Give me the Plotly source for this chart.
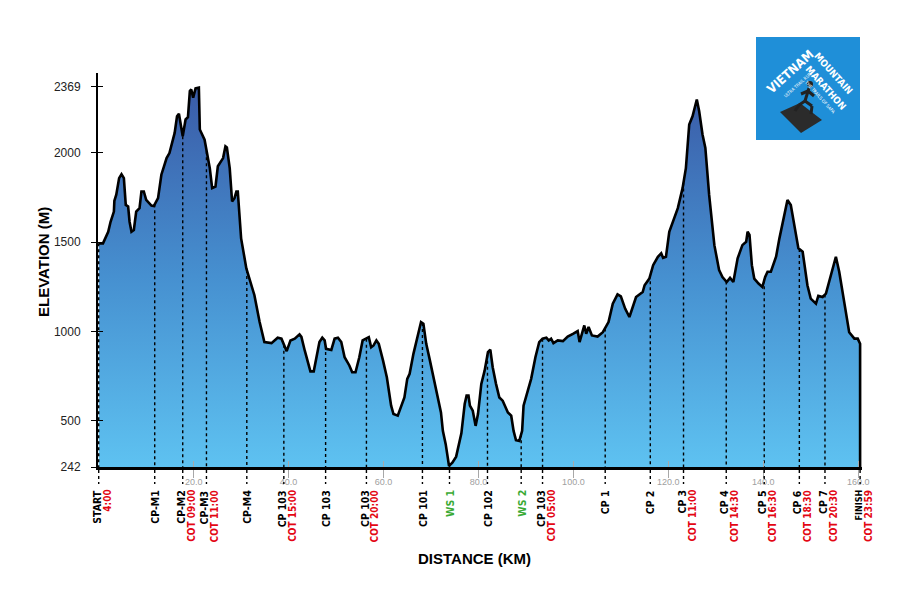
import numpy as np
import plotly.graph_objects as go

# elevation profile (km, metres)
km = [0, 0.9, 2.0, 2.5, 3.2, 3.3, 3.7, 4.3, 4.8, 5.3, 5.7, 6.2, 6.5, 6.9, 7.4, 7.9, 8.6, 9.0, 9.5,
      10.0, 11.1, 11.6, 12.5, 13.2, 14.3, 14.9, 16.0, 16.5, 16.9, 17.2, 17.7, 18.3, 18.8, 19.2,
      19.5, 19.9, 20.4, 21.1, 21.3, 22.3, 22.7, 23.4, 23.9, 24.6, 25.1, 26.2, 26.7, 27.0, 27.6,
      28.1, 28.6, 29.0, 29.3, 30.0, 31.1, 32.8, 33.9, 34.9, 36.4, 37.7, 38.5, 39.2, 39.6, 40.4,
      41.3, 42.3, 42.7, 43.4, 44.1, 44.6, 45.3, 45.8, 46.5, 47.1, 47.6, 47.9, 49.0, 49.7, 50.4,
      51.1, 51.8, 52.8, 53.4, 54.1, 54.9, 55.6, 56.4, 56.9, 57.4, 57.9, 58.5, 59.0, 59.9, 60.7,
      61.6, 62.1, 63.0, 63.7, 64.4, 65.0, 65.5, 66.3, 66.9, 67.6, 67.9, 68.4, 69.0, 69.7, 70.4,
      71.1, 72.1, 72.5, 73.1, 73.8, 74.5, 75.3, 76.4, 77.1, 77.5, 77.9, 78.2, 78.8, 79.4, 79.9,
      80.6, 81.3, 82.0, 82.5, 83.0, 83.7, 84.4, 85.1, 86.2, 86.9, 87.4, 87.9, 88.6, 89.2, 89.5,
      90.4, 91.1, 92.0, 92.8, 93.5, 94.3, 94.8, 95.3, 95.8, 96.7, 97.8, 98.8, 99.9, 100.9, 101.3,
      101.8, 102.3, 102.7, 103.2, 103.9, 105.1, 106.2, 106.9, 107.4, 108.3, 109.3, 110.0, 110.9,
      111.8, 112.5, 113.2, 114.6, 115.0, 116.0, 116.8, 117.8, 118.5, 118.9, 119.5, 120.2, 120.9,
      122.0, 123.0, 123.7, 124.4, 125.1, 126.0, 126.5, 127.2, 127.8, 128.6, 129.7, 130.7, 131.4,
      132.3, 133.0, 133.7, 134.6, 135.6, 136.4, 136.7, 137.1, 137.6, 138.1, 139.0, 139.8, 140.4,
      140.9, 141.6, 142.7, 143.4, 144.4, 145.1, 145.8, 146.5, 147.4, 148.3, 149.3, 150.0, 151.1,
      151.6, 152.5, 153.2, 154.3, 155.3, 156.0, 157.1, 158.1, 159.2, 159.9, 160.4, 160.4]
elev = [1493, 1493, 1558, 1614, 1671, 1731, 1765, 1858, 1880, 1858, 1708, 1699, 1614, 1558, 1568,
        1671, 1690, 1783, 1783, 1736, 1704, 1702, 1746, 1877, 1970, 1998, 2111, 2204, 2218, 2176,
        2092, 2186, 2199, 2345, 2354, 2308, 2360, 2364, 2130, 2073, 2008, 1914, 1802, 1811, 1924,
        1970, 2036, 2030, 1914, 1727, 1746, 1783, 1783, 1521, 1353, 1203, 1053, 941, 935, 965,
        960, 912, 890, 950, 960, 984, 970, 894, 828, 777, 777, 847, 941, 965, 950, 903, 897, 960,
        965, 941, 856, 810, 772, 772, 856, 950, 960, 968, 912, 922, 950, 931, 837, 744, 585, 538,
        529, 585, 631, 735, 763, 875, 941, 1025, 1053, 1044, 931, 847, 763, 669, 547, 444, 370,
        248, 266, 300, 430, 594, 641, 641, 585, 557, 472, 538, 707, 781, 884, 898, 800, 707, 631,
        613, 547, 529, 444, 392, 388, 444, 585, 669, 735, 856, 941, 960, 965, 950, 960, 935, 950,
        946, 972, 987, 1002, 941, 987, 1034, 987, 1025, 978, 972, 996, 1025, 1053, 1156, 1208,
        1197, 1128, 1081, 1137, 1193, 1221, 1259, 1296, 1371, 1418, 1437, 1412, 1418, 1558, 1614,
        1690, 1802, 1914, 2158, 2204, 2298, 2232, 2102, 2027, 1764, 1483, 1343, 1305, 1277, 1300,
        1277, 1409, 1483, 1502, 1558, 1540, 1371, 1296, 1268, 1249, 1305, 1334, 1334, 1418, 1521,
        1652, 1736, 1708, 1596, 1465, 1446, 1259, 1184, 1156, 1199, 1193, 1212, 1315, 1418, 1334,
        1165, 996, 960, 960, 931, 242]

# checkpoints
cp_km = [0, 11.8, 17.7, 22.7, 31.2, 39.0, 47.8, 56.4, 68.2, 73.9, 81.9, 89.0, 93.5,
         106.7, 116.2, 123.2, 132.2, 140.2, 147.6, 153.0, 160.4]
cp_name = ["START", "CP-M1", "CP-M2", "CP-M3", "CP-M4", "CP 103", "CP 103", "CP 103", "CP 101",
           "WS 1", "CP 102", "WS 2", "CP 103", "CP 1", "CP 2", "CP 3", "CP 4", "CP 5", "CP 6",
           "CP 7", "FINISH"]
cp_cot = ["4:00", "", "COT 09:00", "COT 11:00", "", "COT 15:00", "", "COT 20:00", "", "", "",
          "", "COT 05:00", "", "", "COT 11:00", "COT 14:30", "COT 16:30", "COT 18:30",
          "COT 20:30", "COT 23:59"]

y_ticks = [242, 500, 1000, 1500, 2000, 2369]
x_ticks = [20, 40, 60, 80, 100, 120, 140, 160]
x_tick_text = ["20.0", "40.0", "60.0", "80.0", "100.0", "120.0", "140.0", "160.0"]

# plot area in page pixels: 98..862 x 73..467 (the page body adds 8px)
OFF = 8
W, H = 900 - OFF, 600 - OFF
L, R, T, B = 98, 862, 73, 467


def px(x):
    return (x - L) / (R - L)


def py(y):
    return (B - y) / (B - T)


narrow = "Liberation Sans Narrow, Arial Narrow, DejaVu Sans Condensed, sans-serif"


def note(x, y, text, size, colour="white", angle=0, family=narrow):
    return dict(x=px(x), y=py(y), xref="paper", yref="paper", showarrow=False,
                xanchor="center", yanchor="middle", text=text, textangle=angle,
                font=dict(family=family, size=size, color=colour))


fig = go.Figure()

fig.add_trace(go.Scatter(
    x=km, y=elev, mode="lines", fill="tozeroy",
    line=dict(color="black", width=2.6),
    fillgradient=dict(type="vertical", start=242, stop=2369,
                      colorscale=[[0, "#5ec2f1"], [0.5, "#4690d0"], [1, "#3a5ba7"]]),
    hoverinfo="skip", showlegend=False,
))

# dotted checkpoint lines inside the plot
cp_elev = np.interp(cp_km, km[:-1], elev[:-1])
dx, dy = [], []
for k, e in zip(cp_km, cp_elev):
    dx += [k, k, None]
    dy += [e, 242, None]
fig.add_trace(go.Scatter(x=dx, y=dy, mode="lines",
                         line=dict(color="black", width=1.4, dash="dot"),
                         hoverinfo="skip", showlegend=False))

# dummy trace so the overlay axes (inside ticks) are drawn
fig.add_trace(go.Scatter(x=[0], y=[242], xaxis="x2", yaxis="y2", mode="markers",
                         marker=dict(opacity=0), hoverinfo="skip", showlegend=False))

shapes = []
annotations = []
for k, name, cot in zip(cp_km, cp_name, cp_cot):
    shapes.append(dict(type="line", xref="x", yref="paper", x0=k, x1=k,
                       y0=py(470), y1=py(484),
                       line=dict(color="black", width=1.4, dash="dot")))
    colour = "#3aaa35" if name.startswith("WS") else "black"
    size = 9 if name == "FINISH" else 10.5
    annotations.append(dict(x=k, y=py(488), xref="x", yref="paper", text="<b>%s</b>" % name,
                            textangle=-90, xanchor="center", yanchor="top", showarrow=False,
                            xshift=-2 if cot else 0,
                            font=dict(family=narrow, size=size, color=colour)))
    if cot:
        annotations.append(dict(x=k, y=py(488), xref="x", yref="paper", text="<b>%s</b>" % cot,
                                textangle=-90, xanchor="center", yanchor="top", showarrow=False,
                                xshift=8, font=dict(family=narrow, size=10, color="#e30613")))

# axis titles
annotations.append(note(474, 558, "<b>DISTANCE (KM)</b>", 15, "black",
                        family="Liberation Sans, Arial"))
annotations.append(note(43, 262, "<b>ELEVATION (M)</b>", 15, "black", angle=-90,
                        family="Liberation Sans, Arial"))

# logo
shapes.append(dict(type="rect", xref="paper", yref="paper", x0=px(756), x1=px(860),
                   y0=py(140), y1=py(37), fillcolor="#1f8fd8", line=dict(width=0), layer="above"))
rock = "M %f %f L %f %f L %f %f L %f %f Z" % (px(780), py(112), px(800), py(103),
                                             px(822), py(120), px(801), py(133))
shapes.append(dict(type="path", xref="paper", yref="paper", path=rock,
                   fillcolor="#2b2b2b", line=dict(width=0), layer="above"))
runner = [((809, 88), (805, 101)), ((805, 101), (799, 105)), ((799, 105), (795, 111)),
          ((805, 101), (812, 106)), ((812, 106), (811, 114)), ((808, 91), (814, 96)),
          ((808, 91), (801, 94))]
for (x0, y0), (x1, y1) in runner:
    shapes.append(dict(type="line", xref="paper", yref="paper", x0=px(x0), y0=py(y0),
                       x1=px(x1), y1=py(y1), line=dict(color="#222222", width=3), layer="above"))
shapes.append(dict(type="circle", xref="paper", yref="paper", x0=px(807), x1=px(813),
                   y0=py(87), y1=py(81), fillcolor="#222222", line=dict(width=0), layer="above"))
annotations.append(note(790, 71, "<b>VIETNAM</b>", 12.5, angle=-42))
annotations.append(note(834, 73, "<b>MOUNTAIN</b>", 9.5, angle=48))
annotations.append(note(826, 87, "<b>MARATHON</b>", 9.5, angle=48))
annotations.append(note(797, 85, "ULTRA TRAIL RUN", 4.5, angle=-42))
annotations.append(note(819, 97, "THE TRAILS OF SAPA", 4.5, angle=48))

fig.update_layout(
    width=W, height=H,
    margin=dict(l=L - OFF, r=W - (R - OFF), t=T - OFF, b=H - (B - OFF)),
    paper_bgcolor="white", plot_bgcolor="white",
    showlegend=False,
    font=dict(family="Liberation Sans, Arial, sans-serif", color="black"),
    xaxis=dict(range=[-0.15, 160.8], showgrid=False, zeroline=False,
               showline=True, linecolor="black", linewidth=3,
               tickvals=x_ticks, ticktext=x_tick_text, ticks="outside", ticklen=8,
               tickwidth=1, tickcolor="#a8a8a8", ticklabelstandoff=-4,
               tickfont=dict(size=9, color="#a0a0a0")),
    yaxis=dict(range=[242, 2446], showgrid=False, zeroline=False,
               showline=True, linecolor="black", linewidth=2,
               tickvals=y_ticks, ticktext=[str(v) for v in y_ticks], ticks="outside",
               ticklen=5, tickwidth=1, tickcolor="black", ticklabelstandoff=8,
               tickfont=dict(size=12, color="#222222")),
    xaxis2=dict(overlaying="x", range=[-0.15, 160.8], showgrid=False, zeroline=False,
                tickvals=x_ticks, ticks="inside", ticklen=6, tickwidth=1,
                tickcolor="#a8a8a8", showticklabels=False, side="bottom"),
    yaxis2=dict(overlaying="y", range=[242, 2446], showgrid=False, zeroline=False,
                tickvals=y_ticks, ticks="inside", ticklen=5, tickwidth=1,
                tickcolor="black", showticklabels=False, side="left"),
    shapes=shapes,
    annotations=annotations,
)

fig.write_html("out.html")
